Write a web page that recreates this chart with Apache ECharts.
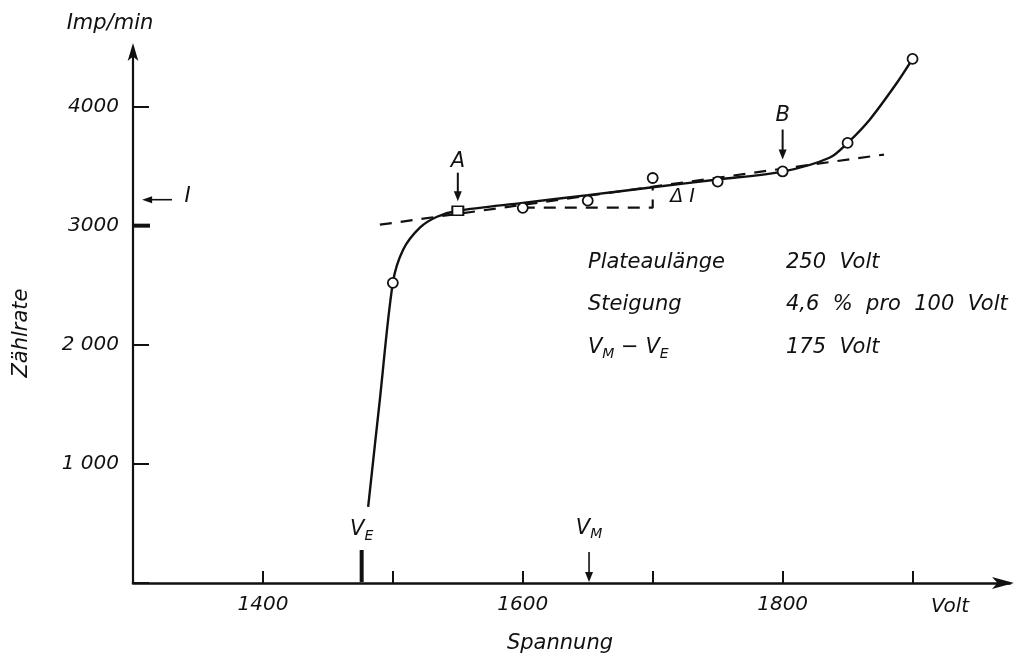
<!DOCTYPE html>
<html>
<head>
<meta charset="utf-8">
<style>
  html, body { margin: 0; padding: 0; background: #fff; }
  #chart { width: 1018px; height: 657px; }
</style>
<script src="https://cdn.jsdelivr.net/npm/echarts@6/dist/echarts.min.js"></script>
</head>
<body>
<div id="chart"></div>
<script>
// Zählrohr-Charakteristik: Zählrate über Spannung mit Plateau

// Messpunkte (Volt, Imp/min)
const measVolt = [1500, 1550, 1600, 1650, 1700, 1750, 1800, 1850, 1900];
const measRate = [2520, 3125, 3150, 3210, 3400, 3370, 3455, 3695, 4400];
const measSymbol = ['circle', 'rect', 'circle', 'circle', 'circle', 'circle', 'circle', 'circle', 'circle'];

// gezeichnete Ausgleichskurve
const curveVolt = [1481, 1490, 1500, 1508, 1521, 1534, 1550, 1600, 1650, 1700, 1750, 1800, 1836, 1850, 1867, 1888, 1900];
const curveRate = [640, 1540, 2520, 2800, 2985, 3075, 3125, 3191, 3256, 3322, 3388, 3454, 3570, 3695, 3890, 4200, 4400];

// verlängerte Plateaugerade (gestrichelt)
const tangentVolt = [1490, 1878];
const tangentRate = [3008, 3597];

// Stufe für ΔI
const stepVolt = [1600, 1700, 1700];
const stepRate = [3151, 3151, 3322];

// Achsenbeschriftungen
const xLabelValues = [1400, 1600, 1800];
const xLabelTexts = ['1400', '1600', '1800'];
const yLabelValues = [1000, 2000, 3000, 4000];
const yLabelTexts = ['1 000', '2 000', '3000', '4000'];
const yBoldTick = 3000;

// Kennwerte
const infoNames = ['Plateaulänge', 'Steigung', '{v|V}{s|M}{v| − }{v|V}{s|E}'];
const infoValues = ['250  Volt', '4,6  %  pro  100  Volt', '175  Volt'];

// markante Spannungen und Zählraten
const voltE = 1476;
const voltM = 1651;
const rateI = 3218;
const voltA = 1550;
const voltB = 1800;

const FONT = 'DejaVu Sans';
const INK = '#111';
const LABEL_SIZE = 20;
const TEXT_SIZE = 21;

const chart = echarts.init(document.getElementById('chart'), null, { renderer: 'canvas' });

const zip = (a, b) => a.map((v, i) => [v, b[i]]);

chart.setOption({
  animation: false,
  backgroundColor: '#fff',
  grid: { left: 133, right: 8, top: 47, bottom: 74, containLabel: false },
  xAxis: {
    type: 'value',
    min: 1300, max: 1975, interval: 100,
    splitLine: { show: false },
    axisLine: { show: true, symbol: ['none', 'arrow'], symbolSize: [9, 22], symbolOffset: [0, 4], lineStyle: { color: INK, width: 2.6 } },
    axisTick: { show: true, inside: true, length: 12, lineStyle: { color: INK, width: 2 } },
    axisLabel: {
      margin: 12, color: INK, fontFamily: FONT, fontStyle: 'italic', fontSize: LABEL_SIZE,
      showMaxLabel: false,
      formatter: v => { const i = xLabelValues.indexOf(v); return i >= 0 ? xLabelTexts[i] : ''; }
    }
  },
  yAxis: {
    type: 'value',
    min: 0, max: 4500, interval: 1000,
    splitLine: { show: false },
    axisLine: { show: true, symbol: ['none', 'arrow'], symbolSize: [8, 18], symbolOffset: [0, 4], lineStyle: { color: INK, width: 2.2 } },
    axisTick: { show: true, inside: true, length: 16, lineStyle: { color: INK, width: 2 } },
    axisLabel: {
      margin: 14, color: INK, fontFamily: FONT, fontStyle: 'italic', fontSize: LABEL_SIZE,
      showMaxLabel: false,
      formatter: v => { const i = yLabelValues.indexOf(v); return i >= 0 ? yLabelTexts[i] : ''; }
    }
  },
  series: [
    {
      name: 'Kurve', type: 'line', data: zip(curveVolt, curveRate),
      smooth: 0.3, showSymbol: false, silent: true,
      lineStyle: { color: INK, width: 2.4 }, z: 3
    },
    {
      name: 'Plateaugerade', type: 'line', data: zip(tangentVolt, tangentRate),
      showSymbol: false, silent: true,
      lineStyle: { color: INK, width: 2.2, type: [12, 9] }, z: 2
    },
    {
      name: 'ΔI', type: 'line', data: zip(stepVolt, stepRate),
      showSymbol: false, silent: true,
      lineStyle: { color: INK, width: 2.2, type: [12, 9] }, z: 2
    },
    {
      name: 'Messpunkte', type: 'scatter',
      data: measVolt.map((v, i) => ({ value: [v, measRate[i]], symbol: measSymbol[i], symbolSize: measSymbol[i] === 'rect' ? [11, 9] : 10 })),
      itemStyle: { color: '#fff', borderColor: INK, borderWidth: 1.8, opacity: 1 }, z: 5
    }
  ]
});

// Beschriftungen an Datenpunkten
const px = (v, r) => chart.convertToPixel({ gridIndex: 0 }, [v, r]);
const font = size => `italic ${size}px "${FONT}"`;
const txt = (x, y, text, size = TEXT_SIZE, el = {}) => Object.assign({
  type: 'text', x, y,
  style: { text, fill: INK, font: font(size), align: 'center', verticalAlign: 'middle' }
}, el);
const arrowDown = (x, y1, y2, w = 2) => [
  { type: 'line', shape: { x1: x, y1: y1, x2: x, y2: y2 - 6 }, style: { stroke: INK, lineWidth: w } },
  { type: 'polygon', shape: { points: [[x - 4, y2 - 10], [x + 4, y2 - 10], [x, y2]] }, style: { fill: INK } }
];

const pA1 = px(voltA, 3445), pA2 = px(voltA, 3205), pAL = px(voltA, 3540);
const pB1 = px(voltB, 3807), pB2 = px(voltB, 3555), pBL = px(voltB, 3925);
const pE1 = px(voltE, 277), pE2 = px(voltE, 8), pEL = px(voltE, 445);
const pM1 = px(voltM, 260), pM2 = px(voltM, 8), pML = px(voltM, 455);
const pI1 = px(1330, rateI), pI2 = px(1307, rateI), pIL = px(1342, rateI + 25);
const pDI = px(1723, 3244);
const pT = px(1300, yBoldTick);

const rich = {
  v: { font: font(TEXT_SIZE), fill: INK },
  s: { font: font(14), fill: INK, padding: [12, 0, 0, 0] }
};

const elements = [
  // Achsentitel
  txt(110, 24, 'Imp/min'),
  txt(22, 333, 'Zählrate', TEXT_SIZE, { rotation: Math.PI / 2 }),
  txt(560, 644, 'Spannung'),
  txt(950, 607, 'Volt', LABEL_SIZE),
  // kräftiger Teilstrich bei 3000
  { type: 'line', shape: { x1: pT[0], y1: pT[1], x2: pT[0] + 17, y2: pT[1] }, style: { stroke: INK, lineWidth: 4 } },
  // A und B
  txt(pAL[0], pAL[1], 'A'),
  ...arrowDown(pA1[0], pA1[1], pA2[1]),
  txt(pBL[0], pBL[1], 'B'),
  ...arrowDown(pB1[0], pB1[1], pB2[1]),
  // ΔI
  txt(pDI[0], pDI[1], 'Δ I', 19),
  // V_E: Einsatzspannung
  { type: 'line', shape: { x1: pE1[0], y1: pE1[1], x2: pE2[0], y2: pE2[1] }, style: { stroke: INK, lineWidth: 4 } },
  { type: 'text', x: pEL[0], y: pEL[1], style: { text: '{v|V}{s|E}', rich, align: 'center', verticalAlign: 'middle' } },
  // V_M: Arbeitsspannung
  ...arrowDown(pM1[0], pM1[1], pM2[1], 1.6),
  { type: 'text', x: pML[0], y: pML[1], style: { text: '{v|V}{s|M}', rich, align: 'center', verticalAlign: 'middle' } },
  // I
  { type: 'line', shape: { x1: pI1[0], y1: pI1[1], x2: pI2[0] + 6, y2: pI2[1] }, style: { stroke: INK, lineWidth: 1.6 } },
  { type: 'polygon', shape: { points: [[pI2[0] + 10, pI2[1] - 3.5], [pI2[0] + 10, pI2[1] + 3.5], [pI2[0], pI2[1]]] }, style: { fill: INK } },
  txt(pIL[0], pIL[1], 'I')
];

// Kennwerte-Tabelle
const rowY = [263, 305, 348];
infoNames.forEach((name, i) => {
  elements.push({ type: 'text', x: 588, y: rowY[i], style: { text: name, rich, fill: INK, font: font(TEXT_SIZE), align: 'left', verticalAlign: 'middle' } });
  elements.push({ type: 'text', x: 786, y: rowY[i], style: { text: infoValues[i], fill: INK, font: font(TEXT_SIZE), align: 'left', verticalAlign: 'middle' } });
});

chart.setOption({ graphic: { elements } });
</script>
</body>
</html>
